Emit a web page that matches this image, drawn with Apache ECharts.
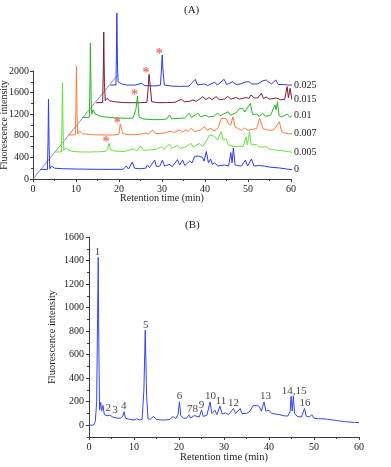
<!DOCTYPE html>
<html><head><meta charset="utf-8">
<script src="https://cdn.jsdelivr.net/npm/echarts@6/dist/echarts.min.js"></script>
<style>html,body{margin:0;padding:0;background:#fff}#c{width:391px;height:467px}</style>
</head><body><div id="c"></div>
<script>
// ---------- Panel A : waterfall chromatograms (local time, local intensity) ----------
const traceNames = ['0', '0.005', '0.007', '0.01', '0.015', '0.025'];
const trace0 = [[1.7,175],[3.35,178],[3.5,700],[3.6,1480],[3.75,600],[3.9,190],[4.3,240],[5.0,200],[7,190],[10,185],[14,180],[18,178],[21,180],[21.7,240],[22.2,185],[23.1,315],[23.6,200],[25,190],[26.2,200],[26.6,260],[27.1,210],[28.3,350],[28.7,230],[29.5,240],[30.1,350],[30.6,240],[31.7,270],[32.4,230],[33.6,360],[34.1,260],[34.8,350],[35.3,250],[36.4,330],[37,300],[37.6,420],[38.5,425],[39.4,400],[39.8,330],[40.3,510],[40.8,300],[41.3,370],[41.7,270],[42.2,300],[43,240],[44.5,260],[45.5,240],[46.0,490],[46.3,300],[46.6,575],[47.0,260],[47.5,250],[48.5,240],[49.4,350],[49.9,240],[50.8,370],[51.4,240],[52.5,250],[53.8,240],[55,220],[57.3,204],[59,185],[60.6,167]];
const trace1 = [[1.7,200],[3.35,202],[3.5,800],[3.6,1478],[3.75,600],[3.9,230],[4.3,274],[5.0,240],[6,210],[8,200],[10,200],[12,205],[13.5,210],[14.1,250],[14.4,361],[14.8,240],[16,215],[18,210],[20.3,260],[20.8,220],[21.9,311],[22.4,230],[24,240],[25.5,250],[26.6,300],[27.2,250],[28.5,348],[29,270],[30.4,320],[31,270],[32,280],[33.5,361],[34,290],[35.5,361],[36.2,300],[37.2,420],[37.8,515],[38.6,500],[39.2,470],[39.7,420],[40.5,576],[41,420],[41.7,440],[42.2,330],[43.5,300],[44.5,310],[45.6,300],[46.3,483],[46.6,330],[47.1,576],[47.5,330],[48.7,340],[49.2,300],[50,290],[51,298],[51.6,260],[53,240],[55,220],[58,185],[60.5,176]];
const trace2 = [[1.7,215],[3.35,217],[3.5,800],[3.6,1493],[3.75,600],[3.9,230],[4.3,290],[5,240],[7,220],[10,215],[12.5,215],[13.5,230],[13.8,419],[14.1,400],[14.4,240],[16,220],[18,225],[19.8,250],[20.3,230],[21.4,307],[22,240],[24,250],[25.6,290],[26.2,260],[27.6,310],[28.2,270],[29.1,310],[29.6,280],[30.3,339],[31,280],[32.3,300],[33.4,369],[34,300],[34.9,340],[35.6,290],[36.5,340],[37.3,524],[38.4,520],[39.0,420],[39.5,400],[40.0,554],[40.5,360],[41.1,340],[42,300],[42.7,345],[43.5,300],[44.5,320],[45.5,330],[46.2,524],[46.6,554],[47,330],[48.5,300],[49.5,310],[50.8,461],[51.3,280],[52,250],[53,235],[54.7,246],[57,200],[60.5,172]];
const trace3 = [[1.7,240],[3.35,242],[3.5,900],[3.6,1619],[3.75,700],[3.9,300],[4.2,380],[4.8,300],[6,260],[8,240],[10,230],[12,225],[13.5,225],[14.2,400],[14.55,637],[14.9,250],[16,210],[18,200],[20,200],[21.3,210],[22.0,285],[22.5,215],[24,220],[25.5,230],[26.6,317],[27.1,240],[28.6,320],[29.2,250],[30.5,285],[31,250],[32.3,260],[33.2,320],[33.8,270],[35.6,346],[36.2,280],[37.5,330],[38.3,409],[39.0,409],[39.5,340],[40.8,502],[41.3,300],[42.2,300],[43.0,260],[43.7,317],[44.3,260],[45.5,280],[46.5,470],[46.8,380],[47.1,531],[47.5,270],[48.0,250],[49.4,300],[50,240],[50.9,300],[51.5,230],[53,220],[54.95,224],[55.3,200],[55.7,220],[57,190],[60.6,174]];
const trace4 = [[1.7,213],[3.2,215],[3.35,800],[3.45,1522],[3.6,600],[3.8,250],[4.2,294],[4.8,250],[6,230],[8,215],[10,213],[12,213],[13.5,220],[13.8,500],[14.0,740],[14.3,500],[14.6,230],[16,213],[18,215],[20,220],[21.5,276],[22.2,230],[23.5,240],[24.2,263],[25,240],[26.5,324],[27.2,270],[28.0,310],[28.6,270],[29.6,324],[30.3,270],[31.5,280],[32.3,330],[33,280],[34.3,310],[35,280],[36.6,310],[37.2,290],[37.7,356],[38.5,300],[39.3,300],[40.1,387],[40.6,290],[41.2,320],[42,280],[43.6,300],[44.5,270],[45.5,270],[46.1,509],[46.4,300],[46.8,480],[47.2,270],[48.2,294],[48.6,260],[49.0,294],[49.5,250],[50.9,231],[52,220],[55,200],[58,180],[60.6,157]];
const trace5 = [[1.7,240],[3.05,242],[3.15,800],[3.25,1574],[3.4,600],[3.55,300],[3.9,333],[4.4,260],[5.5,240],[7.5,240],[9.1,272],[9.6,230],[11,225],[12.5,225],[13.4,240],[13.6,500],[13.8,796],[14.0,500],[14.3,240],[16,220],[18,215],[20,220],[21.5,346],[22,240],[23.6,260],[24.3,230],[26.0,290],[26.6,240],[28.2,346],[28.8,250],[30.2,300],[31,250],[32,260],[33.3,300],[34.1,300],[34.6,260],[36,260],[37.2,320],[38,333],[38.5,300],[39.2,260],[40.2,333],[40.8,250],[42,250],[43,240],[44.5,240],[45.5,250],[46.0,407],[46.25,300],[46.5,407],[46.8,260],[48,250],[49.0,283],[49.5,240],[51,230],[53,220],[56,190],[60.8,148]];
// peaks marked with a red asterisk (trace index, local time, local intensity)
const starTraces = [1, 2, 3, 4, 5];
const starTimes  = [14.4, 13.8, 14.55, 14.0, 13.8];
const starValues = [361, 419, 637, 740, 796];
// the oblique "sample" axis of the waterfall
const depthAxis = [[0,0],[19.6,1920]];
const xTicksA = [0, 10, 20, 30, 40, 50, 60];
const yTicksA = [0, 400, 800, 1200, 1600, 2000];

// ---------- Panel B : chromatogram with numbered peaks ----------
const chromB = [[0,0],[1.0,2],[1.4,30],[1.7,200],[1.9,900],[2.05,1427],[2.2,600],[2.35,130],[2.6,195],[2.8,120],[3.1,170],[3.4,90],[4.0,80],[4.6,85],[5.0,100],[5.3,70],[5.7,80],[6.2,60],[7.0,60],[7.5,75],[7.8,115],[8.1,60],[9.0,50],[10.0,45],[10.6,55],[11.2,45],[11.8,50],[12.2,300],[12.5,808],[12.8,250],[13.1,55],[13.6,50],[14.3,75],[15.0,50],[16,45],[17,45],[18,50],[18.7,75],[19.2,55],[19.8,90],[20.1,200],[20.4,80],[21.0,60],[21.7,60],[22.2,88],[22.6,62],[23.4,82],[23.8,65],[24.5,70],[25.0,128],[25.4,75],[26.2,85],[26.9,198],[27.3,100],[28.0,128],[28.4,90],[29.1,162],[29.6,95],[30.4,105],[31.0,90],[32.1,142],[32.6,100],[33.6,142],[34.0,100],[35.0,100],[35.8,120],[36.4,165],[37.2,170],[37.8,160],[38.3,120],[38.9,198],[39.3,120],[40.0,128],[40.6,100],[41.5,95],[42.3,90],[43.4,80],[44.2,78],[44.7,120],[44.9,247],[45.15,120],[45.4,247],[45.7,100],[46.3,75],[47.2,70],[47.9,142],[48.3,75],[49.0,70],[49.5,90],[50.0,60],[51,55],[52,55],[53.0,50],[53.4,58],[54,45],[55,40],[56,35],[57,30],[58,27],[59,24],[60,22]];
const peakLabels = ['1','2','3','4','5','6','78','9','10','11','12','13','14,15','16'];
const peakTimes  = [1.9, 4.3, 5.8, 7.7, 12.6, 20.1, 23.0, 25.0, 27.0, 29.3, 32.1, 39.2, 45.6, 48.0];
const peakValues = [1427, 100, 80, 115, 808, 200, 88, 128, 198, 162, 142, 198, 247, 142];
const xTicksB = [0, 10, 20, 30, 40, 50, 60];
const yTicksB = [0, 200, 400, 600, 800, 1000, 1200, 1400, 1600];
const yMinorB = [-100, 100, 300, 500, 700, 900, 1100, 1300, 1500];

// ---------- styling ----------
const DX = 3.25, DY = 300;           // waterfall offset per trace (axis units)
const traceColors = ['#2e3ae6', '#66e236', '#ff7a38', '#22b822', '#7c1c2e', '#2e3ae6'];
const traces = [trace0, trace1, trace2, trace3, trace4, trace5];
const FONT = 'Liberation Serif';
const AX = '#3a3a3a';
const txt = {fontFamily: FONT, color: '#222', fontSize: 10};
const plain = v => String(v);

const series = [];
series.push({
  type: 'line', xAxisIndex: 0, yAxisIndex: 0, data: depthAxis, showSymbol: false,
  lineStyle: {color: '#6e7788', width: 0.8}, clip: false, silent: true, z: 1
});
for (let k = traces.length - 1; k >= 0; k--) {
  series.push({
    name: traceNames[k], type: 'line', xAxisIndex: 0, yAxisIndex: 0,
    data: traces[k].map(p => [p[0] + k * DX, p[1] + k * DY]),
    showSymbol: false, clip: false, z: 2 + (traces.length - k),
    lineStyle: {color: traceColors[k], width: 1},
    endLabel: {show: true, formatter: '{a}', distance: 2, ...txt, fontSize: 10}
  });
}
series.push({
  type: 'scatter', xAxisIndex: 0, yAxisIndex: 0, symbolSize: 0, clip: false, z: 20,
  data: starTraces.map((k, i) => [starTimes[i] + k * DX, starValues[i] + k * DY]),
  label: {show: true, position: 'inside', formatter: '*', offset: [-3, -1],
          fontFamily: FONT, fontSize: 14, fontWeight: 'bold', color: '#f0463c'}
});
series.push({
  type: 'line', xAxisIndex: 1, yAxisIndex: 1, data: chromB, showSymbol: false,
  lineStyle: {color: '#3447f0', width: 1}, z: 3
});
series.push({
  type: 'scatter', xAxisIndex: 1, yAxisIndex: 1, symbolSize: 0, z: 10,
  data: peakLabels.map((s, i) => ({name: s, value: [peakTimes[i], peakValues[i]]})),
  label: {show: true, position: 'top', distance: 0, formatter: '{b}', ...txt, fontSize: 11, color: '#111'}
});

const axisCommon = {
  nameMoveOverlap: false,
  axisLine: {lineStyle: {color: AX, width: 1}},
  axisTick: {lineStyle: {color: AX}, length: 3},
  minorTick: {show: true, splitNumber: 2, length: 2, lineStyle: {color: AX}},
  splitLine: {show: false}, minorSplitLine: {show: false}
};

const option = {
  animation: false,
  backgroundColor: '#fff',
  title: [
    {text: '(A)', left: 179, top: 0, textStyle: {...txt, fontSize: 11, fontWeight: 'normal'}},
    {text: '(B)', left: 180, top: 215, textStyle: {...txt, fontSize: 11, fontWeight: 'normal'}}
  ],
  grid: [
    {left: 33, top: 71, width: 258, height: 108, containLabel: false, outerBoundsMode: 'none'},
    {left: 89, top: 237, width: 270, height: 200, containLabel: false, outerBoundsMode: 'none'}
  ],
  xAxis: [
    {gridIndex: 0, type: 'value', min: xTicksA[0], max: xTicksA[xTicksA.length - 1], interval: 10,
     ...axisCommon, axisLabel: {...txt, margin: 5, formatter: plain},
     name: 'Retention time (min)', nameLocation: 'middle', nameGap: 14,
     nameTextStyle: {...txt, fontSize: 10}},
    {gridIndex: 1, type: 'value', min: xTicksB[0], max: xTicksB[xTicksB.length - 1], interval: 10,
     ...axisCommon, axisLine: {onZero: false, lineStyle: {color: AX, width: 1}},
     axisLabel: {...txt, margin: 5, formatter: plain},
     name: 'Retention time (min)', nameLocation: 'middle', nameGap: 15,
     nameTextStyle: {...txt, fontSize: 10.5}}
  ],
  yAxis: [
    {gridIndex: 0, type: 'value', min: yTicksA[0], max: yTicksA[yTicksA.length - 1], interval: 400,
     ...axisCommon, axisLabel: {...txt, margin: 4, formatter: plain},
     name: 'Fluorescence intensity', nameLocation: 'middle', nameGap: 23.5,
     nameTextStyle: {...txt, fontSize: 10}},
    {gridIndex: 1, type: 'value', min: -100, max: 1600, position: 'left', offset: 0,
     nameMoveOverlap: false,
     axisLine: {onZero: false, lineStyle: {color: AX, width: 1}},
     axisTick: {customValues: yTicksB, length: 3, lineStyle: {color: AX}},
     axisLabel: {customValues: yTicksB, ...txt, margin: 5, formatter: plain},
     splitLine: {show: false},
     name: 'Fluorescence intensity', nameLocation: 'middle', nameGap: 31,
     nameTextStyle: {...txt, fontSize: 10.5}},
    {gridIndex: 1, type: 'value', min: -100, max: 1600, position: 'left', offset: 0,
     axisLine: {show: false},
     axisTick: {customValues: yMinorB, length: 2, lineStyle: {color: AX}},
     axisLabel: {show: false}, splitLine: {show: false}}
  ],
  series: series
};
const chart = echarts.init(document.getElementById('c'), null, {renderer: 'canvas', width: 391, height: 467});
chart.setOption(option);
</script>
</body></html>
